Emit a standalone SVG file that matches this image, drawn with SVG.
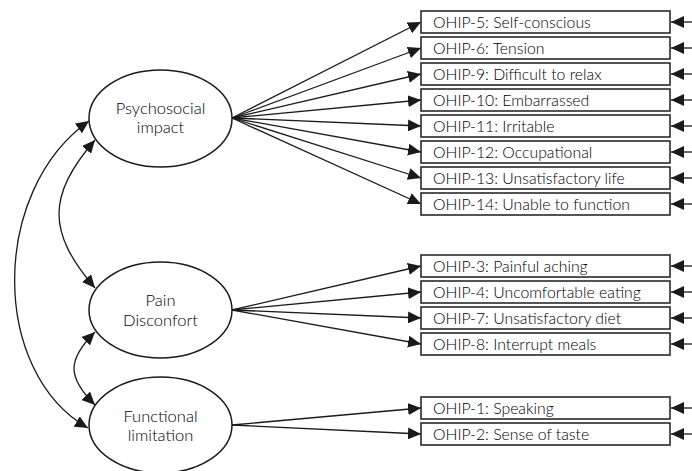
<svg xmlns="http://www.w3.org/2000/svg" width="692" height="471" viewBox="0 0 692 471">
<defs>
<marker id="ah" viewBox="0 0 13 12" refX="13" refY="6" markerWidth="13" markerHeight="12" markerUnits="userSpaceOnUse" orient="auto-start-reverse">
<path d="M0,0 L13,6 L0,12 z" fill="#1a1a1a"/>
</marker>
<style>
.box{fill:#fff;stroke:#2a2a2a;stroke-width:1.6}
.ell{fill:#fff;stroke:#1a1a1a;stroke-width:1.5}
.bt{font-family:Lato,"Liberation Sans",sans-serif;font-weight:300;font-size:15.8px;fill:#000}
.et{font-family:Lato,"Liberation Sans",sans-serif;font-weight:300;font-size:16.5px;fill:#000;text-anchor:middle}
.ln{fill:none;stroke:#1a1a1a;stroke-width:1.3;marker-end:url(#ah)}
.cv{fill:none;stroke:#1a1a1a;stroke-width:1.3;marker-start:url(#ah);marker-end:url(#ah)}
</style>
</defs>
<rect width="692" height="471" fill="#fff"/>
<g id="connectors">
<path class="ln" d="M232,118 L421,22"/>
<path class="ln" d="M232,118 L421,48"/>
<path class="ln" d="M232,118 L421,74"/>
<path class="ln" d="M232,118 L421,100"/>
<path class="ln" d="M232,118 L421,126"/>
<path class="ln" d="M232,118 L421,152"/>
<path class="ln" d="M232,118 L421,178"/>
<path class="ln" d="M232,118 L421,204"/>
<path class="ln" d="M232,310 L421,266"/>
<path class="ln" d="M232,310 L421,292"/>
<path class="ln" d="M232,310 L421,318"/>
<path class="ln" d="M232,310 L421,344"/>
<path class="ln" d="M232,425 L421,408"/>
<path class="ln" d="M232,425 L421,434"/>
<path class="ln" d="M692,22 L671,22"/>
<path class="ln" d="M692,48 L671,48"/>
<path class="ln" d="M692,74 L671,74"/>
<path class="ln" d="M692,100 L671,100"/>
<path class="ln" d="M692,126 L671,126"/>
<path class="ln" d="M692,152 L671,152"/>
<path class="ln" d="M692,178 L671,178"/>
<path class="ln" d="M692,204 L671,204"/>
<path class="ln" d="M692,266 L671,266"/>
<path class="ln" d="M692,292 L671,292"/>
<path class="ln" d="M692,318 L671,318"/>
<path class="ln" d="M692,344 L671,344"/>
<path class="ln" d="M692,408 L671,408"/>
<path class="ln" d="M692,434 L671,434"/>
<path class="cv" d="M89,121 C-10,191 -10,372 88,428"/>
<path class="cv" d="M95,140 C47,196 47,232 95,288"/>
<path class="cv" d="M95,332 C67,360 67,377 95,405"/>
</g>
<g id="psychosocial">
<ellipse class="ell" cx="160.5" cy="118.5" rx="71.5" ry="48.5"/>
<text class="et" x="160.5" y="114">Psychosocial</text>
<text class="et" x="160.5" y="133">impact</text>
</g>
<g id="pain">
<ellipse class="ell" cx="160.5" cy="310" rx="71.5" ry="48"/>
<text class="et" x="160.5" y="306">Pain</text>
<text class="et" x="160.5" y="326">Disconfort</text>
</g>
<g id="functional">
<ellipse class="ell" cx="160.5" cy="425" rx="71.5" ry="48"/>
<text class="et" x="160.5" y="422">Functional</text>
<text class="et" x="160.5" y="441">limitation</text>
</g>
<g id="ohip5"><rect class="box" x="421" y="11" width="249" height="22"/><text class="bt" x="433" y="28">OHIP-5: Self-conscious</text></g>
<g id="ohip6"><rect class="box" x="421" y="37" width="249" height="22"/><text class="bt" x="433" y="54">OHIP-6: Tension</text></g>
<g id="ohip9"><rect class="box" x="421" y="63" width="249" height="22"/><text class="bt" x="433" y="80">OHIP-9: Difficult to relax</text></g>
<g id="ohip10"><rect class="box" x="421" y="89" width="249" height="22"/><text class="bt" x="433" y="106">OHIP-10: Embarrassed</text></g>
<g id="ohip11"><rect class="box" x="421" y="115" width="249" height="22"/><text class="bt" x="433" y="132">OHIP-11: Irritable</text></g>
<g id="ohip12"><rect class="box" x="421" y="141" width="249" height="22"/><text class="bt" x="433" y="158">OHIP-12: Occupational</text></g>
<g id="ohip13"><rect class="box" x="421" y="167" width="249" height="22"/><text class="bt" x="433" y="184">OHIP-13: Unsatisfactory life</text></g>
<g id="ohip14"><rect class="box" x="421" y="193" width="249" height="22"/><text class="bt" x="433" y="210">OHIP-14: Unable to function</text></g>
<g id="ohip3"><rect class="box" x="421" y="255" width="249" height="22"/><text class="bt" x="433" y="272">OHIP-3: Painful aching</text></g>
<g id="ohip4"><rect class="box" x="421" y="281" width="249" height="22"/><text class="bt" x="433" y="298">OHIP-4: Uncomfortable eating</text></g>
<g id="ohip7"><rect class="box" x="421" y="307" width="249" height="22"/><text class="bt" x="433" y="324">OHIP-7: Unsatisfactory diet</text></g>
<g id="ohip8"><rect class="box" x="421" y="333" width="249" height="22"/><text class="bt" x="433" y="350">OHIP-8: Interrupt meals</text></g>
<g id="ohip1"><rect class="box" x="421" y="397" width="249" height="22"/><text class="bt" x="433" y="414">OHIP-1: Speaking</text></g>
<g id="ohip2"><rect class="box" x="421" y="423" width="249" height="22"/><text class="bt" x="433" y="440">OHIP-2: Sense of taste</text></g>
</svg>
